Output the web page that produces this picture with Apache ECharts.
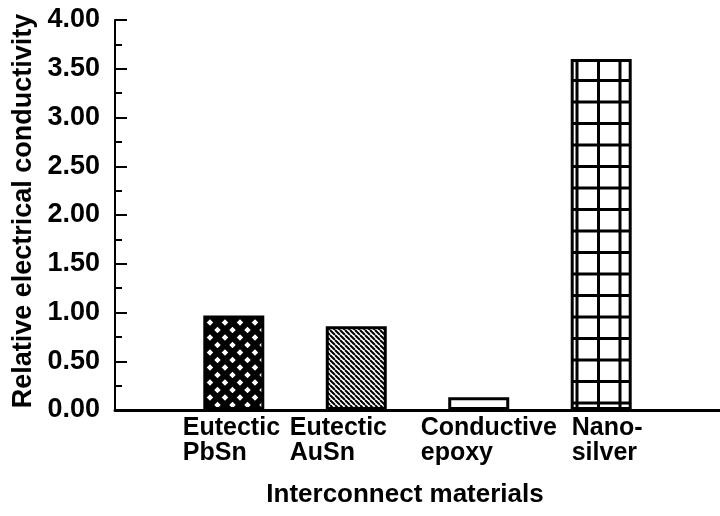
<!DOCTYPE html>
<html>
<head>
<meta charset="utf-8">
<script src="https://cdn.jsdelivr.net/npm/echarts@6/dist/echarts.min.js"></script>
<style>
  html, body { margin: 0; padding: 0; background: #fff; }
  #main { width: 720px; height: 516px; }
</style>
</head>
<body>
<div id="main"></div>
<script>
// chart data
const materials = [['Eutectic', 'PbSn'], ['Eutectic', 'AuSn'], ['Conductive', 'epoxy'], ['Nano-', 'silver']];
const conductivity = [0.97, 0.86, 0.13, 3.60];
const yTicks = [0, 0.5, 1, 1.5, 2, 2.5, 3, 3.5, 4];

// hatch patterns drawn on small canvases
function makeTile(size, draw) {
    const c = document.createElement('canvas');
    c.width = size; c.height = size;
    const ctx = c.getContext('2d');
    ctx.fillStyle = '#fff';
    ctx.fillRect(0, 0, size, size);
    ctx.strokeStyle = '#000';
    draw(ctx, size);
    return { image: c, repeat: 'repeat' };
}

const crossHatch = makeTile(15, (ctx, s) => {
    ctx.lineWidth = 6;
    ctx.beginPath();
    ctx.moveTo(0, 0); ctx.lineTo(s, s);
    ctx.moveTo(s, 0); ctx.lineTo(0, s);
    ctx.stroke();
});

const diagHatch = makeTile(5, (ctx, s) => {
    ctx.lineWidth = 2;
    ctx.beginPath();
    for (let k = -1; k <= 1; k++) {
        ctx.moveTo(k * s, 0);
        ctx.lineTo(k * s + s, s);
    }
    ctx.stroke();
});

const gridHatch = makeTile(43, (ctx, s) => {
    ctx.lineWidth = 3;
    ctx.beginPath();
    [18, 39.5].forEach(x => { ctx.moveTo(x, 0); ctx.lineTo(x, s); });
    [16, 37.5].forEach(y => { ctx.moveTo(0, y); ctx.lineTo(s, y); });
    ctx.stroke();
});

const fills = [crossHatch, diagHatch, '#fff', gridHatch];
// label boxes are left aligned, box width sets where the text starts
const labelWidths = [102, 133, 116, 59];

const font = 'Liberation Sans';
const rich = {};
labelWidths.forEach((w, i) => {
    rich['s' + i] = { width: w, align: 'left', fontSize: 25, fontWeight: 'bold', lineHeight: 25, color: '#000', fontFamily: font };
});

const chart = echarts.init(document.getElementById('main'));
chart.setOption({
    animation: false,
    grid: { left: 115, right: 0, top: 20, bottom: 106, containLabel: false, outerBoundsMode: 'none' },
    xAxis: {
        type: 'value',
        min: 0.03,
        max: 4.97,
        splitLine: { show: false },
        axisTick: { show: false },
        axisLine: { show: true, lineStyle: { color: '#000', width: 3 } },
        axisLabel: {
            customValues: [1, 2, 3, 4],
            margin: 6,
            hideOverlap: false,
            showMinLabel: true,
            showMaxLabel: true,
            formatter: function (v) {
                const i = Math.round(v) - 1;
                const m = materials[i];
                if (!m) return '';
                return '{s' + i + '|' + m[0] + '}\n{s' + i + '|' + m[1] + '}';
            },
            rich: rich
        },
        name: 'Interconnect materials',
        nameLocation: 'middle',
        nameGap: 72,
        nameTextStyle: { fontSize: 26, fontWeight: 'bold', color: '#000', fontFamily: font, padding: [0, 25, 0, 0] }
    },
    yAxis: {
        type: 'value',
        min: 0,
        max: 4,
        interval: 0.5,
        splitLine: { show: false },
        axisLine: { show: true, lineStyle: { color: '#000', width: 2 } },
        axisTick: { show: true, inside: true, length: 12, lineStyle: { color: '#000', width: 2 } },
        minorTick: { show: true, splitNumber: 2, length: 7, lineStyle: { color: '#000', width: 2 } },
        axisLabel: {
            margin: 15,
            fontSize: 27,
            fontWeight: 'bold',
            color: '#000',
            fontFamily: font,
            customValues: yTicks,
            formatter: v => v.toFixed(2)
        },
        name: 'Relative electrical conductivity',
        nameLocation: 'middle',
        nameGap: 74,
        nameTextStyle: { fontSize: 27, fontWeight: 'bold', color: '#000', fontFamily: font, padding: [0, 0, 0, 8] }
    },
    series: [{
        type: 'bar',
        barWidth: 61,
        data: conductivity.map((v, i) => ({
            value: [i + 1, v],
            itemStyle: { color: fills[i], borderColor: '#000', borderWidth: 3 }
        }))
    }]
});
</script>
</body>
</html>
